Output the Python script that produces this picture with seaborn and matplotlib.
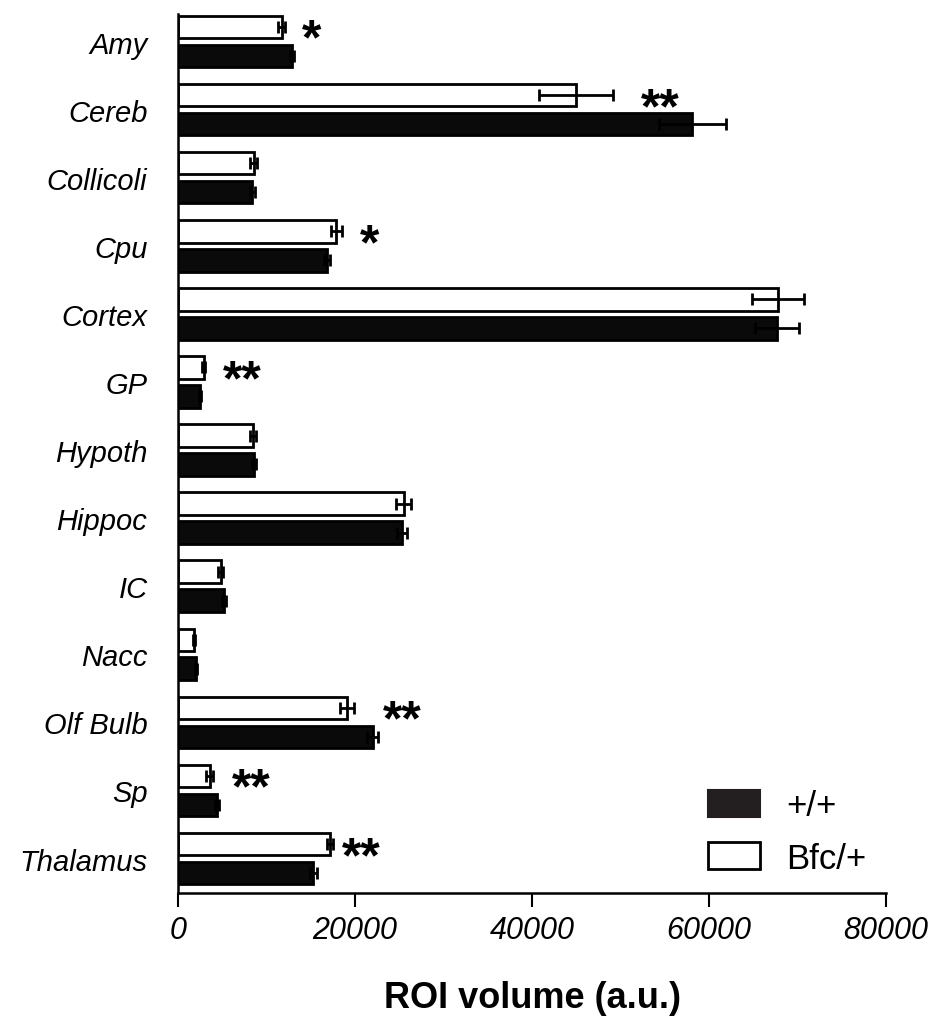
import numpy as np
import pandas as pd
import matplotlib
matplotlib.use("Agg")
import matplotlib.pyplot as plt
from matplotlib.patches import Patch
import seaborn as sns

# ROI volumes (a.u.)
regions = ["Amy", "Cereb", "Collicoli", "Cpu", "Cortex", "GP", "Hypoth",
           "Hippoc", "IC", "Nacc", "Olf Bulb", "Sp", "Thalamus"]
wt_mean  = [12900, 58100, 8400, 16800, 67700, 2500, 8600, 25300, 5200, 2000, 22000, 4400, 15300]
wt_err   = [250, 3800, 250, 350, 2500, 150, 250, 600, 200, 100, 600, 250, 350]
bfc_mean = [11700, 45000, 8550, 17900, 67800, 2900, 8500, 25500, 4800, 1800, 19100, 3600, 17200]
bfc_err  = [350, 4200, 400, 600, 2900, 200, 350, 850, 300, 150, 800, 400, 350]

# significance marks (region, label, x position of the mark)
star_regions = ["Amy", "Cereb", "Cpu", "GP", "Olf Bulb", "Sp", "Thalamus"]
star_labels  = ["*", "**", "*", "**", "**", "**", "**"]
star_x       = [15100, 54500, 21600, 7300, 25300, 8300, 20700]

GENOTYPES = ["Bfc/+", "+/+"]
COLORS = {"Bfc/+": "white", "+/+": "#0a0a0a"}

sns.set_style("ticks")
plt.rcParams["font.family"] = ["Liberation Sans", "DejaVu Sans"]
plt.rcParams["text.color"] = "black"
plt.rcParams["xtick.color"] = "black"
plt.rcParams["ytick.color"] = "black"
plt.rcParams["axes.labelcolor"] = "black"
plt.rcParams["axes.edgecolor"] = "black"

df = pd.DataFrame({
    "region": regions * 2,
    "genotype": ["Bfc/+"] * len(regions) + ["+/+"] * len(regions),
    "volume": bfc_mean + wt_mean,
})
errs = {"Bfc/+": bfc_err, "+/+": wt_err}

fig = plt.figure(figsize=(9.37, 10.2), dpi=100)
ax = fig.add_axes([0.190, 0.1235, 0.7556, 0.8618])

sns.barplot(data=df, y="region", x="volume", hue="genotype",
            hue_order=GENOTYPES, order=regions, palette=COLORS,
            orient="h", errorbar=None, width=0.85, gap=0.22,
            saturation=1, edgecolor="black", linewidth=2, ax=ax)

# error bars on top of each bar
for cont, g in zip(ax.containers, GENOTYPES):
    ys = [p.get_y() + p.get_height() / 2 for p in cont.patches]
    xs = [p.get_width() for p in cont.patches]
    ax.errorbar(xs, ys, xerr=errs[g], fmt="none", ecolor="black",
                elinewidth=2, capsize=4.3, capthick=2, zorder=5)

# stars
for r, lab, sx in zip(star_regions, star_labels, star_x):
    yi = regions.index(r) - 0.01
    ax.text(sx, yi, lab, ha="center", va="center", fontsize=36,
            fontweight="bold", color="black")

ax.set_xlim(0, 80000)
ax.set_ylim(12.507, -0.404)
ax.set_xticks([0, 20000, 40000, 60000, 80000])
ax.set_xticklabels(["0", "20000", "40000", "60000", "80000"],
                   fontsize=22, style="italic")
ax.set_yticks(range(len(regions)))
ax.set_yticklabels(regions, fontsize=21, style="italic")
ax.tick_params(axis="y", length=0, pad=22)
ax.tick_params(axis="x", length=10, width=1.5, pad=6)
ax.set_xlabel("ROI volume (a.u.)", fontsize=26, fontweight="bold", labelpad=25)
ax.set_ylabel("")
sns.despine(ax=ax)
for s in ["left", "bottom"]:
    ax.spines[s].set_linewidth(1.8)

ax.get_legend().remove()
handles = [Patch(facecolor="#231f20", edgecolor="#231f20", linewidth=1.5),
           Patch(facecolor="white", edgecolor="black", linewidth=2)]
ax.legend(handles, ["+/+", "Bfc/+"], loc="lower left",
          bbox_to_anchor=(0.749, 0.021), frameon=False, fontsize=25,
          handlelength=1.5, handleheight=0.8, handletextpad=0.75,
          labelspacing=0.55, borderpad=0, borderaxespad=0)

fig.savefig("out.png", dpi=100)
